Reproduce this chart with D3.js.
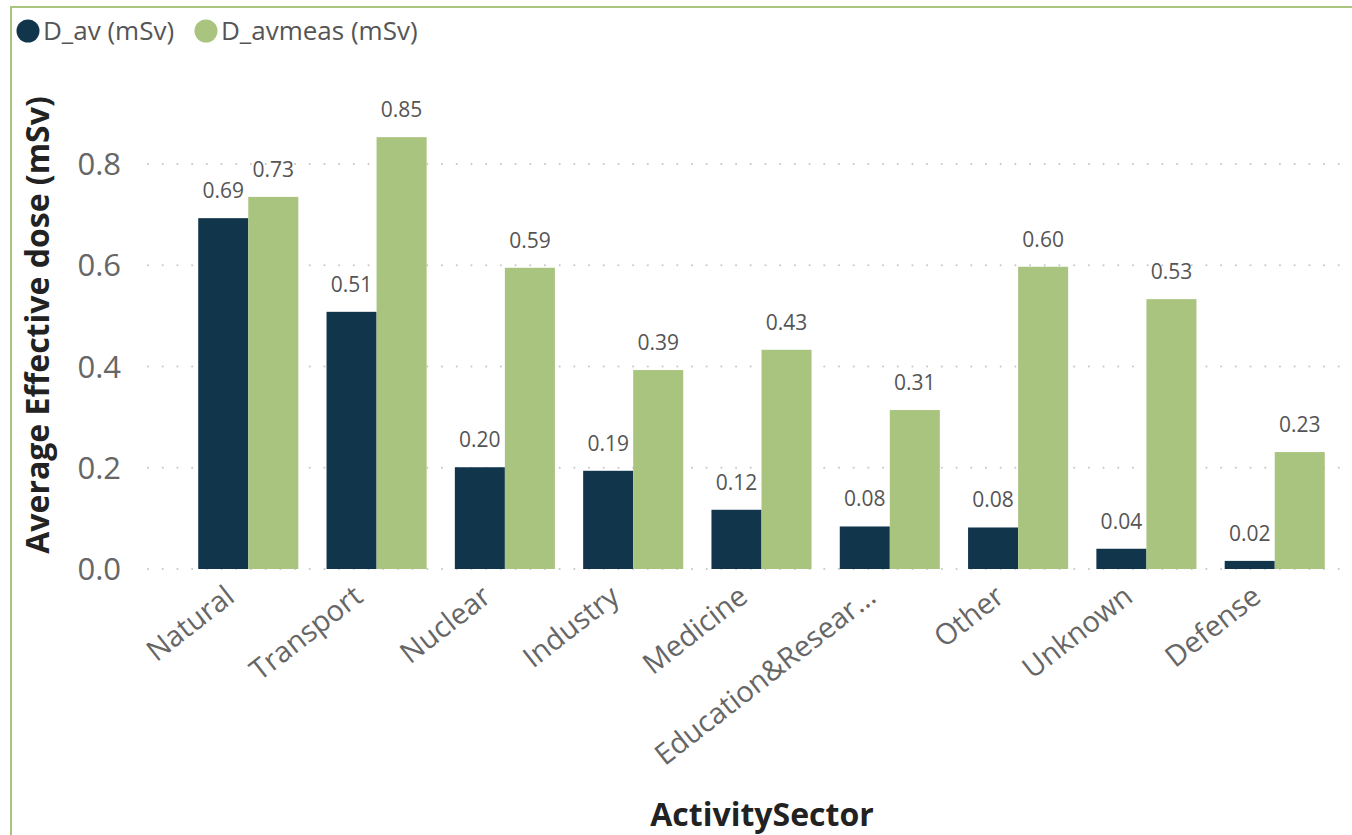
<!DOCTYPE html>
<html>
<head>
<meta charset="utf-8">
<script src="https://cdn.jsdelivr.net/npm/d3@7"></script>
<style>
  body { margin: 0; background: #fff; }
  text { font-family: "Open Sans", "Noto Sans", sans-serif; }
</style>
</head>
<body>
<script>
const sectors = ["Natural", "Transport", "Nuclear", "Industry", "Medicine", "Education&Resear\u2026", "Other", "Unknown", "Defense"]
const dAv = [0.693, 0.508, 0.201, 0.194, 0.117, 0.084, 0.082, 0.040, 0.016]
const dAvMeas = [0.735, 0.853, 0.595, 0.393, 0.433, 0.314, 0.597, 0.533, 0.231]
const seriesNames = ["D_av (mSv)", "D_avmeas (mSv)"]
const yTicks = [0, 0.2, 0.4, 0.6, 0.8]

const W = 1352, H = 835
const Dark = "#11354b"
const Green = "#a9c47f"
const Frame = "#a9c47f"

const svg = d3.select("body").append("svg")
  .attr("width", W)
  .attr("height", H)

// frame (left + top)
svg.append("path")
  .attr("d", "M11," + H + " V7 H" + W)
  .attr("fill", "none")
  .attr("stroke", Frame)
  .attr("stroke-width", 2)

const x = d3.scaleBand().domain(sectors).range([170, 1353]).paddingInner(0.22).paddingOuter(0.22)
const xs = d3.scaleBand().domain([0, 1]).range([0, x.bandwidth()])
const y = d3.scaleLinear().domain([0, 0.8]).range([569, 164])

// gridlines
svg.append("g").selectAll("line").data(yTicks).join("line")
  .attr("x1", 148).attr("x2", 1345)
  .attr("y1", d => y(d)).attr("y2", d => y(d))
  .attr("stroke", "#c8c8c8")
  .attr("stroke-width", 2)
  .attr("stroke-linecap", "round")
  .attr("stroke-dasharray", "0.1 14.6")

// y tick labels
svg.append("g").selectAll("text").data(yTicks).join("text")
  .attr("x", 121)
  .attr("y", d => y(d) + 11)
  .attr("text-anchor", "end")
  .attr("font-size", 31)
  .attr("fill", "#666")
  .text(d => d3.format(".1f")(d))

// bars
const groups = svg.append("g").selectAll("g").data(sectors).join("g")
  .attr("transform", d => "translate(" + x(d) + ",0)")

groups.each(function (s, i) {
  const g = d3.select(this)
  const vals = [dAv[i], dAvMeas[i]]
  vals.forEach((v, k) => {
    g.append("rect")
      .attr("x", xs(k))
      .attr("width", xs.bandwidth())
      .attr("y", y(v))
      .attr("height", y(0) - y(v))
      .attr("fill", k == 0 ? Dark : Green)
    g.append("text")
      .attr("x", xs(k) + xs.bandwidth() / 2)
      .attr("y", y(v) - 20)
      .attr("text-anchor", "middle")
      .attr("font-size", 21)
      .attr("fill", "#555")
      .text(d3.format(".2f")(v))
  })
})

// x tick labels
svg.append("g").selectAll("text").data(sectors).join("text")
  .attr("transform", d => "translate(" + (x(d) + x.bandwidth() / 2 - 12) + ",600) rotate(-38)")
  .attr("text-anchor", "end")
  .attr("font-size", 29)
  .attr("fill", "#666")
  .text(d => d)

// axis titles
svg.append("text")
  .attr("transform", "translate(49,325) rotate(-90)")
  .attr("text-anchor", "middle")
  .attr("font-size", 32)
  .attr("font-weight", "bold")
  .attr("fill", "#222")
  .text("Average Effective dose (mSv)")

svg.append("text")
  .attr("x", 762)
  .attr("y", 826)
  .attr("text-anchor", "middle")
  .attr("font-size", 32)
  .attr("font-weight", "bold")
  .attr("fill", "#222")
  .text("ActivitySector")

// legend
const legX = [28, 206]
seriesNames.forEach((n, k) => {
  svg.append("circle")
    .attr("cx", legX[k]).attr("cy", 31).attr("r", 11.5)
    .attr("fill", k == 0 ? Dark : Green)
  svg.append("text")
    .attr("x", legX[k] + 15).attr("y", 40)
    .attr("font-size", 26)
    .attr("fill", "#555")
    .text(n)
})
</script>
</body>
</html>
